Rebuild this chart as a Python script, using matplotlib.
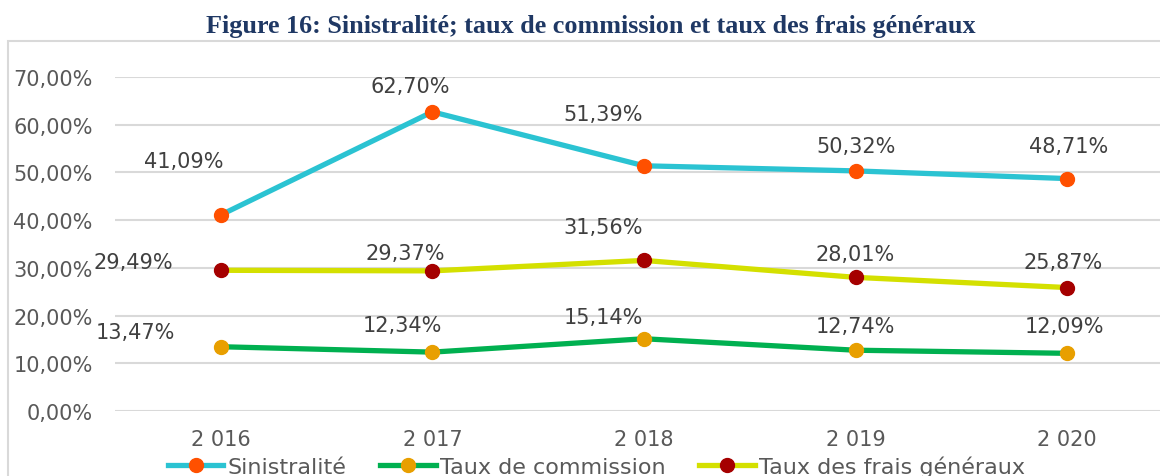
import matplotlib.pyplot as plt
from matplotlib.patches import Rectangle
from matplotlib.ticker import FuncFormatter

years = ['2 016', '2 017', '2 018', '2 019', '2 020']
sinistralite = [41.09, 62.70, 51.39, 50.32, 48.71]
commission = [13.47, 12.34, 15.14, 12.74, 12.09]
frais = [29.49, 29.37, 31.56, 28.01, 25.87]

# label offsets in pixels (dx, dy)
off_sin = [(-37, 54), (-22, 26), (-41, 52), (0, 25), (1, 33)]
off_com = [(-85, 15), (-30, 27), (-41, 22), (0, 24), (-3, 27)]
off_fra = [(-87, 8), (-27, 18), (-41, 33), (0, 23), (-4, 26)]

grey = '#595959'

def pct(v):
    return ('%.2f%%' % v).replace('.', ',')

fig = plt.figure(figsize=(11.6, 4.77), dpi=100)

# outer chart border (runs off the right and bottom edge)
fig.patches.append(Rectangle((8 / 1160, -0.1), 1.2, 1 - 42 / 477 + 0.1,
                             transform=fig.transFigure, fill=False,
                             edgecolor='#d9d9d9', linewidth=1.5))

fig.text(0.509, 1 - 27 / 477, 'Figure 16: Sinistralité; taux de commission et taux des frais généraux',
         ha='center', va='center', family='Liberation Serif', fontweight='bold',
         fontsize=18.8, color='#1f3864')

ax = fig.add_axes([115 / 1160, 1 - 412 / 477, (1173 - 115) / 1160, (412 - 78) / 477])
x = range(len(years))

series = [
    (sinistralite, 'Sinistralité', '#2bc3d2', '#ff5000', off_sin),
    (commission, 'Taux de commission', '#00b050', '#e89f00', off_com),
    (frais, 'Taux des frais généraux', '#d4e000', '#a50000', off_fra),
]
for vals, name, lc, mc, offs in series:
    ax.plot(x, vals, color=lc, linewidth=3.8, marker='o', markersize=10,
            markerfacecolor=mc, markeredgecolor=mc, label=name, zorder=3)
    for i, v in enumerate(vals):
        ax.annotate(pct(v), (i, v), xytext=offs[i], textcoords='offset pixels',
                    ha='center', va='center', fontsize=15, color='#404040')

ax.set_xlim(-0.5, len(years) - 0.5)
ax.set_ylim(0, 70)
ax.set_yticks(range(0, 71, 10))
ax.yaxis.set_major_formatter(FuncFormatter(lambda v, p: pct(v)))
ax.set_xticks(list(x))
ax.set_xticklabels(years)
ax.grid(axis='y', color='#d9d9d9', linewidth=1.5)
ax.set_axisbelow(True)
for s in ax.spines.values():
    s.set_visible(False)
ax.tick_params(length=0, labelsize=15, labelcolor=grey)
ax.tick_params(axis='y', pad=16)
ax.tick_params(axis='x', pad=13)

ax.legend(loc='center', bbox_to_anchor=(0.455, -0.165), ncol=3, frameon=False,
          fontsize=16, labelcolor=grey, handlelength=2.5, columnspacing=1.5,
          handletextpad=0.2)

fig.savefig('out.png', dpi=100)
